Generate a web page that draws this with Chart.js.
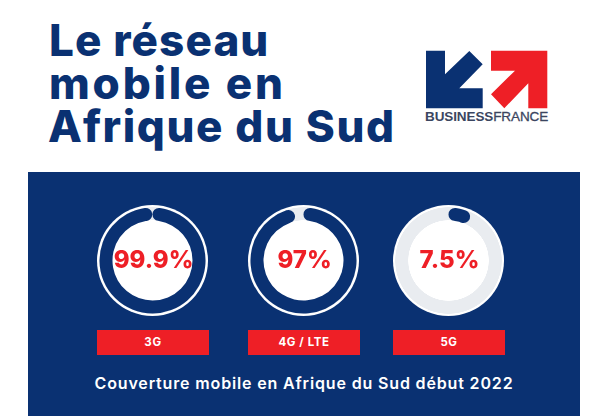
<!DOCTYPE html>
<html lang="fr">
<head>
<meta charset="utf-8">
<title>Le réseau mobile en Afrique du Sud</title>
<script src="https://cdn.jsdelivr.net/npm/chart.js@4/dist/chart.umd.min.js"></script>
<style>
  html, body { margin: 0; padding: 0; background: #fff; }
  body { width: 600px; height: 416px; position: relative; overflow: hidden; font-family: Inter, sans-serif; }
  h1 { position: absolute; left: 48px; top: 18.5px; margin: 0; color: #0a3172; font-size: 44px; line-height: 43px; font-weight: 800; white-space: nowrap; }
  h1 span { display: block; }
  #logo { position: absolute; left: 0; top: 0; }
  #logoText { position: absolute; left: 425px; top: 110px; font-size: 13.5px; line-height: 14px; color: #3b4560; font-family: "Liberation Sans", sans-serif; white-space: nowrap; letter-spacing: -0.1px; font-weight: 700; }
  #logoText span { font-weight: 400; -webkit-text-stroke: 0.3px #3b4560; }
  #panel { position: absolute; left: 28px; top: 172px; width: 552px; height: 244px; background: #0a3172; }
  .ring { position: absolute; top: 205px; width: 111px; height: 111px; border-radius: 50%;
    background: radial-gradient(circle at center, #fff 0 40px, #e9ecf0 40.5px 53px, #fff 53.5px); }
  .ring canvas { position: absolute; left: 0; top: 0; }
  .val { position: absolute; left: 1px; width: 111px; top: 38px; text-align: center; color: #ee1f26; font-weight: 800; font-size: 24px; line-height: 34px; white-space: nowrap; }
  .tag { position: absolute; top: 330px; width: 112px; height: 25px; background: #ee1f26; color: #fff; text-align: center; font-weight: 700; font-size: 11.5px; line-height: 25px; letter-spacing: 0.6px; }
  #caption { position: absolute; left: 28px; width: 552px; top: 373px; text-align: center; color: #fff; font-weight: 600; font-size: 16px; line-height: 20px; letter-spacing: 0.85px; }
</style>
</head>
<body>
<h1><span style="letter-spacing:1.1px;margin-left:1px">Le réseau</span><span style="letter-spacing:2.8px;margin-left:1px">mobile en</span><span style="letter-spacing:1.6px">Afrique du Sud</span></h1>
<svg id="logo" width="600" height="170">
  <polygon fill="#0a3172" points="426,50.7 445,50.7 445,74.3 469.3,51 482.7,64.3 459.3,88.3 482.7,88.3 482.7,108.3 426,108.3"/>
  <polygon fill="#ee1f26" points="491,50.7 547.3,50.7 547.3,108.3 528.3,108.3 528.3,83.3 504.3,108.3 491,94.3 515,70.7 491,70.7"/>
</svg>
<div id="logoText">BUSINESS<span>FRANCE</span></div>
<div id="panel"></div>
<div id="caption">Couverture mobile en Afrique du Sud début 2022</div>

<script>
const categories = ['3G', '4G / LTE', '5G'];
const coverage = [99.9, 97, 7.5];
const ringLeft = [97, 248, 393];
const NAVY = '#0a3172';

categories.forEach((cat, i) => {
  const ring = document.createElement('div');
  ring.className = 'ring';
  ring.style.left = ringLeft[i] + 'px';
  const canvas = document.createElement('canvas');
  canvas.width = 111;
  canvas.height = 111;
  ring.appendChild(canvas);
  const val = document.createElement('div');
  val.className = 'val';
  val.textContent = coverage[i] + '%';
  ring.appendChild(val);
  document.body.appendChild(ring);

  const tag = document.createElement('div');
  tag.className = 'tag';
  tag.style.left = ringLeft[i] + 'px';
  tag.textContent = cat;
  document.body.appendChild(tag);

  // the grey track is the css gradient behind, only the value slice is painted
  new Chart(canvas.getContext('2d'), {
    type: 'doughnut',
    data: {
      labels: [cat, ''],
      datasets: [{
        data: [coverage[i], 100 - coverage[i]],
        backgroundColor: [NAVY, 'rgba(0,0,0,0)'],
        borderWidth: 0,
        borderRadius: [7, 0]
      }]
    },
    options: {
      responsive: false,
      animation: false,
      radius: 53,
      cutout: '75.5%',
      layout: { padding: 0 },
      plugins: { legend: { display: false }, tooltip: { enabled: false } }
    }
  });
});
</script>
</body>
</html>
